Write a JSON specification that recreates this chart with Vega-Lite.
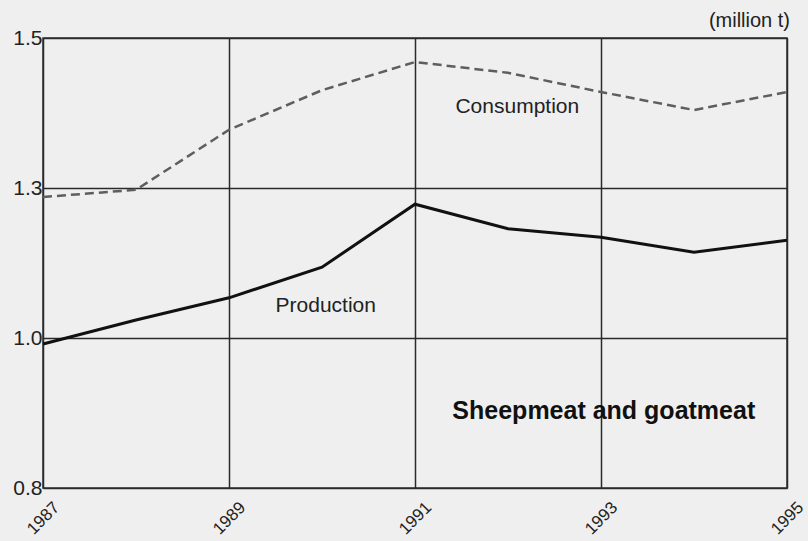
{
  "$schema": "https://vega.github.io/schema/vega-lite/v6.json",
  "width": 744,
  "height": 450,
  "autosize": {"type": "none"},
  "padding": {"left": 43, "top": 38, "right": 21, "bottom": 53},
  "background": "#efefef",
  "config": {
    "font": "Liberation Sans",
    "view": {"stroke": "#333333", "strokeWidth": 1.5, "fill": "#efefef"}
  },
  "datasets": {
    "series": [
      {"year": 1987, "series": "Production", "value": 0.99},
      {"year": 1988, "series": "Production", "value": 1.03},
      {"year": 1989, "series": "Production", "value": 1.067},
      {"year": 1990, "series": "Production", "value": 1.118},
      {"year": 1991, "series": "Production", "value": 1.223},
      {"year": 1992, "series": "Production", "value": 1.182},
      {"year": 1993, "series": "Production", "value": 1.168},
      {"year": 1994, "series": "Production", "value": 1.143},
      {"year": 1995, "series": "Production", "value": 1.163},
      {"year": 1987, "series": "Consumption", "value": 1.235},
      {"year": 1988, "series": "Consumption", "value": 1.247},
      {"year": 1989, "series": "Consumption", "value": 1.347},
      {"year": 1990, "series": "Consumption", "value": 1.413},
      {"year": 1991, "series": "Consumption", "value": 1.46},
      {"year": 1992, "series": "Consumption", "value": 1.442},
      {"year": 1993, "series": "Consumption", "value": 1.41},
      {"year": 1994, "series": "Consumption", "value": 1.38},
      {"year": 1995, "series": "Consumption", "value": 1.41}
    ],
    "labels": [
      {"year": 1992.1, "value": 1.385, "label": "Consumption"},
      {"year": 1990.04, "value": 1.053, "label": "Production"}
    ],
    "title": [
      {"year": 1993.03, "value": 0.878, "label": "Sheepmeat and goatmeat"}
    ],
    "unit": [
      {"year": 1995, "value": 1.5, "label": "(million t)"}
    ]
  },
  "encoding": {
    "x": {
      "field": "year",
      "type": "quantitative",
      "scale": {"domain": [1987, 1995], "nice": false, "zero": false},
      "axis": {
        "title": null,
        "values": [1987, 1989, 1991, 1993, 1995],
        "format": "d",
        "domain": false,
        "ticks": false,
        "grid": true,
        "gridColor": "#2a2a2a",
        "gridWidth": 1.5,
        "gridOpacity": 1,
        "labelAngle": -45,
        "labelAlign": "center",
        "labelBaseline": "middle",
        "labelPadding": 30,
        "labelFontSize": 17,
        "labelColor": "#222222",
        "labelFlush": false,
        "labelOverlap": false
      }
    },
    "y": {
      "field": "value",
      "type": "quantitative",
      "scale": {"domain": [0.75, 1.5], "nice": false, "zero": false},
      "axis": {
        "title": null,
        "values": [0.75, 1.0, 1.25, 1.5],
        "format": ".1f",
        "domain": false,
        "ticks": false,
        "grid": true,
        "gridColor": "#2a2a2a",
        "gridWidth": 1.5,
        "gridOpacity": 1,
        "labelPadding": 1,
        "labelFontSize": 21,
        "labelColor": "#222222",
        "labelFlush": false,
        "labelOverlap": false
      }
    }
  },
  "layer": [
    {
      "data": {"name": "series"},
      "transform": [{"filter": "datum.series === 'Consumption'"}],
      "mark": {"type": "line", "color": "#5e5e5e", "strokeWidth": 2.5, "strokeDash": [9, 5]}
    },
    {
      "data": {"name": "series"},
      "transform": [{"filter": "datum.series === 'Production'"}],
      "mark": {"type": "line", "color": "#111111", "strokeWidth": 3}
    },
    {
      "data": {"name": "labels"},
      "mark": {"type": "text", "fontSize": 21, "color": "#222222"},
      "encoding": {"text": {"field": "label"}}
    },
    {
      "data": {"name": "title"},
      "mark": {"type": "text", "fontSize": 25, "fontWeight": "bold", "color": "#111111"},
      "encoding": {"text": {"field": "label"}}
    },
    {
      "data": {"name": "unit"},
      "mark": {"type": "text", "fontSize": 20, "color": "#222222", "align": "right", "dx": 3, "dy": -17},
      "encoding": {"text": {"field": "label"}}
    }
  ]
}
